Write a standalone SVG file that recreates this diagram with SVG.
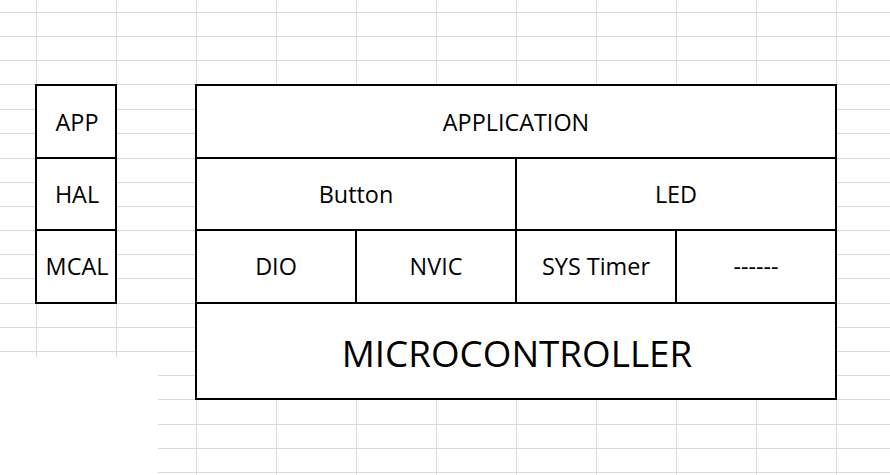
<svg xmlns="http://www.w3.org/2000/svg" width="890" height="475" viewBox="0 0 890 475">
  <style>
    .grid { stroke: #d9d9d9; stroke-width: 1; fill: none; }
    .box { fill: #ffffff; stroke: #000000; stroke-width: 2; }
    .line { stroke: #000000; stroke-width: 2; fill: none; }
    .t { font-family: "Open Sans", "Noto Sans", "Liberation Sans", sans-serif; font-size: 23.4px; fill: #000000; text-anchor: middle; }
    .big { font-size: 36.8px; }
  </style>
  <rect x="0" y="0" width="890" height="475" fill="#ffffff"/>
  <g id="gridlines" class="grid">
    <path d="M36.5 0V475M116.5 0V475M196.5 0V475M276.5 0V475M356.5 0V475M436.5 0V475M516.5 0V475M596.5 0V475M676.5 0V475M756.5 0V475M836.5 0V475"/>
    <path d="M0 12.5H890M0 36.5H890M0 60.5H890M0 84.5H890M0 109.5H890M0 133.5H890M0 158.5H890M0 182.5H890M0 206.5H890M0 230.5H890M0 254.5H890M0 278.5H890M0 303.5H890M0 327.5H890M0 351.5H890M0 375.5H890M0 399.5H890M0 424.5H890M0 448.5H890M0 472.5H890"/>
  </g>
  <rect x="0" y="357" width="158" height="118" fill="#ffffff"/>

  <g id="layers-legend">
    <rect class="box" x="36" y="85" width="80" height="218"/>
    <path class="line" d="M36 158H116M36 230H116"/>
  </g>
  <g id="app"><text class="t" x="77" y="131">APP</text></g>
  <g id="hal"><text class="t" x="77" y="203">HAL</text></g>
  <g id="mcal"><text class="t" x="77" y="275">MCAL</text></g>

  <g id="stack">
    <rect class="box" x="196" y="85" width="640" height="314"/>
    <path class="line" d="M196 158H836M196 230H836M196 303H836M516 158V303M356 230V303M676 230V303"/>
  </g>
  <g id="application"><text class="t" x="516" y="131">APPLICATION</text></g>
  <g id="button"><text class="t" x="356" y="203">Button</text></g>
  <g id="led"><text class="t" x="676" y="203">LED</text></g>
  <g id="dio"><text class="t" x="276" y="275">DIO</text></g>
  <g id="nvic"><text class="t" x="436" y="275">NVIC</text></g>
  <g id="sys-timer"><text class="t" x="596" y="275">SYS Timer</text></g>
  <g id="other"><text class="t" x="756" y="275">------</text></g>
  <g id="microcontroller"><text class="t big" x="517" y="367">MICROCONTROLLER</text></g>
  <g id="connectors"/>
</svg>
